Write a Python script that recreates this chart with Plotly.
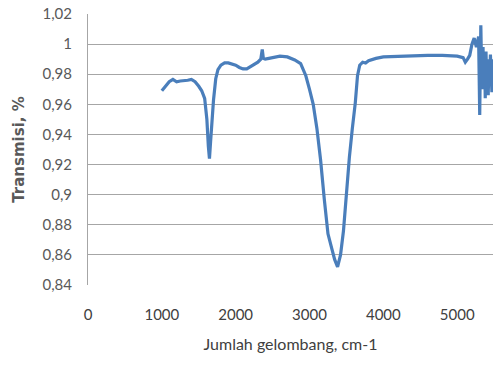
import plotly.graph_objects as go

wavenumber = [1000, 1050, 1100, 1150, 1200, 1250, 1300, 1350, 1400, 1450, 1500, 1540, 1580,
              1610, 1630, 1645, 1660, 1680, 1700, 1730, 1760, 1800, 1850, 1900, 1950, 2000,
              2050, 2100, 2150, 2200, 2250, 2300, 2340, 2360, 2375, 2400, 2450, 2500, 2600,
              2700, 2800, 2880, 2950, 3000, 3050, 3100, 3150, 3200, 3250, 3300, 3340, 3380,
              3420, 3460, 3500, 3540, 3580, 3620, 3650, 3680, 3720, 3760, 3800, 3850, 3900,
              4000, 4200, 4400, 4600, 4800, 5000, 5080, 5110, 5140, 5170, 5200, 5230, 5260,
              5290, 5305, 5320, 5330, 5340, 5350, 5360, 5370, 5380, 5390, 5400, 5410, 5420,
              5430, 5440, 5450, 5460, 5470, 5490]
transmisi = [0.969, 0.972, 0.975, 0.9765, 0.975, 0.9755, 0.9755, 0.976, 0.9765, 0.975, 0.972,
             0.969, 0.964, 0.950, 0.932, 0.924, 0.935, 0.952, 0.963, 0.977, 0.983, 0.986,
             0.9875, 0.9875, 0.987, 0.986, 0.9845, 0.9835, 0.9835, 0.985, 0.9865, 0.988,
             0.990, 0.9965, 0.9905, 0.990, 0.9905, 0.991, 0.992, 0.9915, 0.9895, 0.987, 0.979,
             0.970, 0.960, 0.944, 0.923, 0.897, 0.874, 0.8645, 0.857, 0.852, 0.860, 0.876,
             0.902, 0.925, 0.944, 0.961, 0.979, 0.986, 0.988, 0.9875, 0.989, 0.990, 0.9905,
             0.9915, 0.992, 0.9925, 0.9925, 0.9925, 0.992, 0.991, 0.988, 0.990, 0.9925, 1.000,
             1.004, 0.998, 1.005, 0.953, 1.0125, 0.985, 0.970, 0.998, 0.972, 0.992, 0.964,
             0.995, 0.975, 0.990, 0.966, 0.985, 0.975, 0.993, 0.978, 0.968, 0.990, 0.985]

y_ticks = [0.84, 0.86, 0.88, 0.90, 0.92, 0.94, 0.96, 0.98, 1.00, 1.02]
y_tick_labels = ["0,84", "0,86", "0,88", "0,9", "0,92", "0,94", "0,96", "0,98", "1", "1,02"]
x_ticks = [0, 1000, 2000, 3000, 4000, 5000]
x_tick_labels = ["0", "1000", "2000", "3000", "4000", "5000"]

fig = go.Figure()
fig.add_trace(go.Scatter(
    x=wavenumber, y=transmisi, mode="lines",
    line=dict(color="#4A7EBB", width=3.2),
    hoverinfo="skip", showlegend=False,
))

font_family = "Lato, 'Open Sans', sans-serif"
fig.update_layout(
    width=493, height=365,
    margin=dict(l=88, r=0, t=14, b=80, autoexpand=False),
    paper_bgcolor="white", plot_bgcolor="white",
    font=dict(family=font_family, color="#595959", size=15),
    xaxis=dict(
        range=[0, 5485], tickvals=x_ticks, ticktext=x_tick_labels,
        showgrid=False, zeroline=False, showline=False, automargin=False,
        ticks="outside", ticklen=16, tickcolor="rgba(0,0,0,0)",
        tickfont=dict(size=15, color="#404040"),
        title=dict(text="Jumlah gelombang, cm-1", font=dict(size=16, color="#404040"), standoff=16),
    ),
    yaxis=dict(
        range=[0.84, 1.02], tickvals=y_ticks, ticktext=y_tick_labels,
        showgrid=True, gridcolor="#A6A6A6", gridwidth=1, automargin=False,
        zeroline=False, showline=True, linecolor="#A6A6A6", linewidth=1,
        ticks="outside", ticklen=12, tickcolor="rgba(0,0,0,0)",
        tickfont=dict(size=15, color="#595959"),
        title=dict(text="<b>Transmisi, %</b>",
                   font=dict(size=15, color="#595959", family="DejaVu Sans"), standoff=14),
    ),
)

fig.write_html(
    "out.html",
    config={"displayModeBar": False},
    post_script="document.body.style.margin='0';document.body.style.overflow='hidden';",
)
